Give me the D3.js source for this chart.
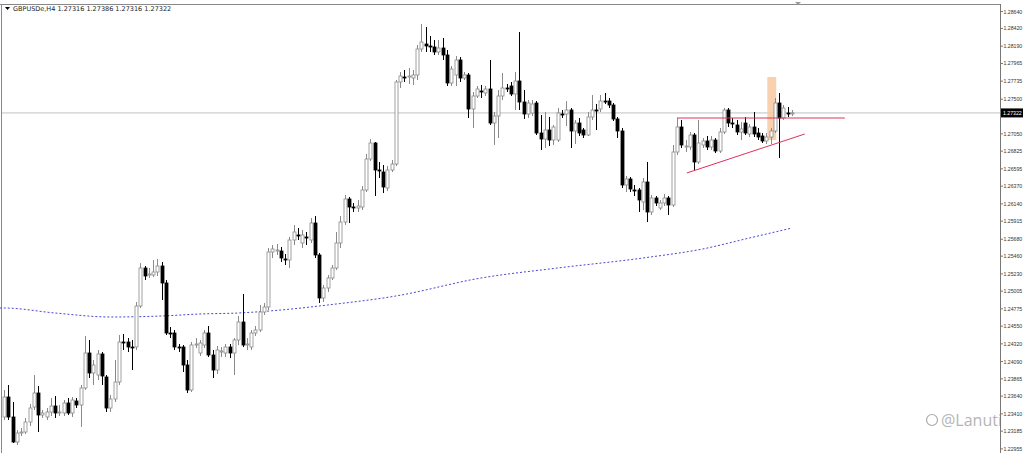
<!DOCTYPE html>
<html><head><meta charset="utf-8">
<script src="https://cdn.jsdelivr.net/npm/d3@7"></script>
<style>body{margin:0;background:#fff;overflow:hidden}svg{display:block}</style>
</head><body><svg id="c" width="1024" height="453"></svg>
<script>
// OHLC per H4 candle: [open, high, low, close]
const candles = [
[1.23369,1.23720,1.23330,1.23629],[1.23629,1.23785,1.23330,1.23369],[1.23369,1.23564,1.23031,1.23044],[1.23044,1.23200,1.23005,1.23161],
[1.23161,1.23226,1.23122,1.23174],[1.23174,1.23356,1.23148,1.23304],[1.23304,1.23538,1.23252,1.23486],[1.23499,1.23915,1.23460,1.23681],
[1.23681,1.23772,1.23174,1.23395],[1.23395,1.23460,1.23356,1.23421],[1.23369,1.23486,1.23330,1.23434],[1.23434,1.23616,1.23382,1.23512],
[1.23512,1.23642,1.23356,1.23421],[1.23421,1.23525,1.23382,1.23434],[1.23421,1.23590,1.23382,1.23551],[1.23551,1.23616,1.23395,1.23421],
[1.23421,1.23629,1.23369,1.23590],[1.23577,1.23616,1.23486,1.23525],[1.23525,1.23785,1.23239,1.23746],[1.23746,1.24422,1.23720,1.24201],
[1.24201,1.24370,1.23876,1.23941],[1.23941,1.24110,1.23785,1.24045],[1.23915,1.24240,1.23850,1.24188],[1.24188,1.24214,1.23785,1.23902],
[1.23889,1.23915,1.23434,1.23486],[1.23486,1.23655,1.23434,1.23603],[1.23603,1.24110,1.23564,1.23824],[1.23824,1.24435,1.23785,1.24344],
[1.24344,1.24448,1.24240,1.24331],[1.24344,1.24396,1.24214,1.24279],[1.24279,1.24370,1.23980,1.24266],[1.24279,1.24864,1.24240,1.24812],
[1.24812,1.25371,1.24786,1.25306],[1.25306,1.25332,1.25150,1.25202],[1.25215,1.25306,1.25176,1.25228],[1.25215,1.25410,1.25189,1.25254],
[1.25254,1.25423,1.25202,1.25332],[1.25332,1.25384,1.24890,1.25111],[1.25111,1.25150,1.24435,1.24461],[1.24461,1.24539,1.24396,1.24448],
[1.24461,1.24500,1.24240,1.24279],[1.24279,1.24318,1.24214,1.24266],[1.24279,1.24305,1.23954,1.24045],[1.24045,1.24110,1.23681,1.23720],
[1.23720,1.24344,1.23694,1.24305],[1.24305,1.24396,1.24266,1.24318],[1.24201,1.24370,1.24162,1.24331],[1.24305,1.24500,1.24266,1.24461],
[1.24461,1.24552,1.24149,1.24175],[1.24175,1.24240,1.23876,1.23980],[1.23980,1.24292,1.23928,1.24240],[1.24214,1.24279,1.24149,1.24227],
[1.24201,1.24318,1.24149,1.24279],[1.24279,1.24318,1.24136,1.24201],[1.24201,1.24396,1.23915,1.24370],[1.24370,1.24682,1.24305,1.24604],
[1.24604,1.24968,1.24279,1.24305],[1.24305,1.24396,1.24240,1.24318],[1.24279,1.24500,1.24240,1.24461],[1.24461,1.24552,1.24422,1.24500],
[1.24500,1.24825,1.24474,1.24734],[1.24734,1.24851,1.24695,1.24799],[1.24799,1.25566,1.24760,1.25514],[1.25514,1.25605,1.25436,1.25553],
[1.25527,1.25618,1.25475,1.25540],[1.25527,1.25579,1.25384,1.25436],[1.25423,1.25488,1.25345,1.25410],[1.25410,1.25709,1.25306,1.25670],
[1.25670,1.25865,1.25605,1.25774],[1.25735,1.25826,1.25670,1.25722],[1.25631,1.25800,1.25566,1.25735],[1.25709,1.25774,1.25605,1.25696],
[1.25670,1.25956,1.25631,1.25891],[1.25891,1.25982,1.25436,1.25475],[1.25475,1.25501,1.24851,1.24916],[1.24916,1.25085,1.24864,1.25046],
[1.25046,1.25215,1.24994,1.25176],[1.25176,1.25345,1.25150,1.25306],[1.25306,1.25774,1.25280,1.25631],[1.25631,1.25982,1.25566,1.25904],
[1.25904,1.26255,1.25865,1.26203],[1.26203,1.26229,1.25891,1.26099],[1.26099,1.26151,1.26034,1.26086],[1.26086,1.26190,1.26034,1.26112],
[1.26099,1.26372,1.26060,1.26320],[1.26320,1.26788,1.26294,1.26723],[1.26723,1.26983,1.26697,1.26931],[1.26931,1.26944,1.26242,1.26580],
[1.26580,1.26684,1.26476,1.26567],[1.26554,1.26645,1.26281,1.26359],[1.26346,1.26632,1.26307,1.26580],[1.26580,1.26710,1.26554,1.26658],
[1.26658,1.27750,1.26632,1.27724],[1.27724,1.27854,1.27646,1.27802],[1.27789,1.27880,1.27724,1.27776],[1.27789,1.27906,1.27698,1.27802],
[1.27776,1.27880,1.27685,1.27815],[1.27815,1.28205,1.27750,1.28153],[1.28153,1.28478,1.28114,1.28244],[1.28218,1.28439,1.28114,1.28192],
[1.28192,1.28322,1.28114,1.28179],[1.28179,1.28270,1.28075,1.28114],[1.28114,1.28270,1.28075,1.28166],[1.28166,1.28296,1.28010,1.28075],
[1.28075,1.28140,1.27672,1.27711],[1.27711,1.27932,1.27672,1.27893],[1.27815,1.28062,1.27672,1.28010],[1.28010,1.28049,1.27724,1.27776],
[1.27776,1.27854,1.27750,1.27815],[1.27815,1.27841,1.27256,1.27373],[1.27373,1.27594,1.27126,1.27542],[1.27542,1.27672,1.27516,1.27633],
[1.27607,1.27685,1.27516,1.27594],[1.27581,1.27672,1.27542,1.27633],[1.27633,1.28010,1.27165,1.27191],[1.27191,1.27334,1.26905,1.27282],
[1.27282,1.27620,1.26996,1.27542],[1.27542,1.27841,1.27490,1.27646],[1.27646,1.27698,1.27594,1.27633],[1.27672,1.27724,1.27542,1.27568],
[1.27568,1.27854,1.27360,1.27737],[1.27737,1.28374,1.27360,1.27464],[1.27464,1.27620,1.27243,1.27308],[1.27308,1.27490,1.27256,1.27451],
[1.27321,1.27490,1.27282,1.27438],[1.27451,1.27477,1.27035,1.27061],[1.27061,1.27295,1.26840,1.26983],[1.26983,1.27334,1.26866,1.27100],
[1.27100,1.27269,1.26892,1.26970],[1.26970,1.27165,1.26905,1.27139],[1.26970,1.27386,1.26944,1.27321],[1.27308,1.27360,1.27256,1.27295],
[1.27308,1.27477,1.27152,1.27360],[1.27360,1.27386,1.26866,1.27087],[1.27087,1.27230,1.26918,1.27191],[1.27191,1.27256,1.27022,1.27061],
[1.27100,1.27126,1.26996,1.27035],[1.27035,1.27334,1.27022,1.27269],[1.27269,1.27555,1.27230,1.27360],[1.27360,1.27438,1.27100,1.27347],
[1.27373,1.27555,1.27334,1.27477],[1.27477,1.27581,1.27438,1.27464],[1.27477,1.27516,1.27386,1.27425],[1.27425,1.27451,1.27217,1.27243],
[1.27243,1.27269,1.26996,1.27087],[1.27087,1.27126,1.26346,1.26385],[1.26385,1.26502,1.26294,1.26463],[1.26463,1.26489,1.26294,1.26333],
[1.26320,1.26385,1.26242,1.26307],[1.26320,1.26346,1.26034,1.26190],[1.26164,1.26476,1.26060,1.26424],[1.26424,1.26684,1.25904,1.26034],
[1.26034,1.26255,1.25995,1.26216],[1.26216,1.26242,1.26112,1.26151],[1.26086,1.26190,1.26060,1.26151],[1.26151,1.26268,1.26112,1.26216],
[1.26216,1.26242,1.25995,1.26125],[1.26125,1.26905,1.26099,1.26814],[1.26814,1.27256,1.26775,1.27139],[1.27139,1.27230,1.26866,1.26905],
[1.26879,1.26970,1.26814,1.26892],[1.26879,1.27074,1.26840,1.27035],[1.27035,1.27061,1.26580,1.26684],[1.26684,1.27230,1.26658,1.26931],
[1.26905,1.26996,1.26866,1.26957],[1.26957,1.27022,1.26840,1.26879],[1.26879,1.27022,1.26840,1.26970],[1.26970,1.26996,1.26801,1.26827],
[1.26827,1.27126,1.26801,1.27074],[1.27074,1.27386,1.27048,1.27360],[1.27360,1.27386,1.27139,1.27191],[1.27191,1.27256,1.27126,1.27178],
[1.27165,1.27230,1.27035,1.27074],[1.27074,1.27204,1.26970,1.27113],[1.27191,1.27269,1.27035,1.27061],[1.27048,1.27178,1.27009,1.27139],
[1.27139,1.27334,1.27009,1.27048],[1.27061,1.27126,1.26970,1.27009],[1.27022,1.27061,1.26931,1.26957],[1.26957,1.27061,1.26918,1.27009],
[1.27009,1.27126,1.26918,1.27087],[1.27087,1.27516,1.27061,1.27451],[1.27451,1.27581,1.26736,1.27256],[1.27256,1.27425,1.27230,1.27386],
[1.27321,1.27399,1.27269,1.27308],[1.27321,1.27360,1.27282,1.27322]
];
// moving average readings: [candle index, value]
const maIdx = [-1,0,12,25,37,46,55,65,76,92,112,130,150,164,175,185];
const maVal = [1.24786,1.24786,1.24721,1.24669,1.24682,1.24708,1.24721,1.24760,1.24825,1.24942,1.25176,1.25306,1.25436,1.25553,1.25696,1.25826];
const tickLabels = ["1.28640","1.28420","1.28190","1.27965","1.27735","1.27500","1.27050","1.26825","1.26595","1.26370","1.26140","1.25915","1.25680","1.25460","1.25230","1.25005","1.24775","1.24550","1.24320","1.24090","1.23865","1.23640","1.23410","1.23185","1.22955"];
const lastPrice = 1.27322;
const resistance = {from:158, to:197.4, value:1.27256};
const support = {x1:160.3, y1:1.26541, x2:188, y2:1.27048};
const highlight = {from:179.2, to:181.3, top:1.27789, bottom:1.26970};
const title = "GBPUSDe,H4  1.27316 1.27386 1.27316 1.27322";

const svg = d3.select("#c");
const x = d3.scaleLinear().domain([0, candles.length-1]).range([4, 792]);
const y = d3.scaleLinear().domain([1.2879, 1.2879-453*0.00013]).range([0,453]);
const F = "Tahoma, 'DejaVu Sans', sans-serif";
const AF = "'Liberation Sans', Arial, sans-serif";

// frame
svg.append("line").attr("x1",0).attr("x2",1000).attr("y1",4.5).attr("y2",4.5).attr("stroke","#888");
svg.append("line").attr("x1",1.5).attr("x2",1.5).attr("y1",4).attr("y2",453).attr("stroke","#888");
svg.append("path").attr("d","M795,2 L801,2 L798,5 Z").attr("fill","#999");

// last price line
svg.append("line").attr("x1",2).attr("x2",1000).attr("y1",y(lastPrice)).attr("y2",y(lastPrice)).attr("stroke","#c0c0c0").attr("stroke-width",1);

// highlight
svg.append("rect").attr("x",x(highlight.from)).attr("width",x(highlight.to)-x(highlight.from))
  .attr("y",y(highlight.top)).attr("height",y(highlight.bottom)-y(highlight.top)).attr("fill","#f8c9a0").attr("opacity",0.85);

// MA
svg.append("path").datum(maIdx.map((d,i)=>[d,maVal[i]]))
  .attr("d",d3.line().x(d=>x(d[0])).y(d=>y(d[1])).curve(d3.curveMonotoneX))
  .attr("fill","none").attr("stroke","#3333cc").attr("stroke-width",0.9).attr("stroke-dasharray","2,2");

// candles
const g = svg.append("g");
candles.forEach((c,i)=>{
  const [o,h,l,cl]=c; const bull = cl>=o; const cx=Math.round(x(i))+0.5;
  g.append("line").attr("x1",cx).attr("x2",cx).attr("y1",y(h)).attr("y2",y(l)).attr("stroke",bull?"#8a8a8a":"#000");
  const top=y(Math.max(o,cl)), bot=y(Math.min(o,cl));
  g.append("rect").attr("x",cx-1.5).attr("width",3).attr("y",top).attr("height",Math.max(1,bot-top))
    .attr("fill",bull?"#fff":"#000").attr("stroke",bull?"#8a8a8a":"#000").attr("stroke-width",0.8);
});

// trend lines
svg.append("line").attr("x1",x(resistance.from)).attr("x2",x(resistance.to)).attr("y1",y(resistance.value)).attr("y2",y(resistance.value)).attr("stroke","#e0305a").attr("stroke-width",1);
svg.append("line").attr("x1",x(support.x1)).attr("x2",x(support.x2)).attr("y1",y(support.y1)).attr("y2",y(support.y2)).attr("stroke","#e0305a").attr("stroke-width",1);

// watermark
svg.append("circle").attr("cx",932).attr("cy",420).attr("r",5.5).attr("fill","none").attr("stroke","#aaa").attr("stroke-width",1.2);
svg.append("text").attr("x",941).attr("y",426).attr("font-size",16).attr("font-family","'Open Sans', sans-serif").attr("fill","#b5b5b5").text("@Lanuti");

// axis
svg.append("line").attr("x1",1000.5).attr("x2",1000.5).attr("y1",4).attr("y2",453).attr("stroke","#777");
const ax = svg.append("g");
tickLabels.forEach(t=>{
  const yy=y(+t);
  ax.append("line").attr("x1",1000).attr("x2",1003).attr("y1",yy).attr("y2",yy).attr("stroke","#777");
  ax.append("text").attr("x",1003.5).attr("y",yy+2).attr("font-size",5.2).attr("font-family",AF).attr("fill","#333").text(t);
});
svg.append("rect").attr("x",1001).attr("y",y(lastPrice)-4.5).attr("width",22).attr("height",9).attr("fill","#000");
svg.append("text").attr("x",1003).attr("y",y(lastPrice)+2).attr("font-size",5.2).attr("font-family",AF).attr("fill","#fff").text(lastPrice.toFixed(5));

// title
svg.append("path").attr("d","M5,7 L10,7 L7.5,10 Z").attr("fill","#000");
svg.append("text").attr("x",13).attr("y",11).attr("font-size",6.5).attr("font-family",F).attr("fill","#222").text(title);
</script></body></html>
